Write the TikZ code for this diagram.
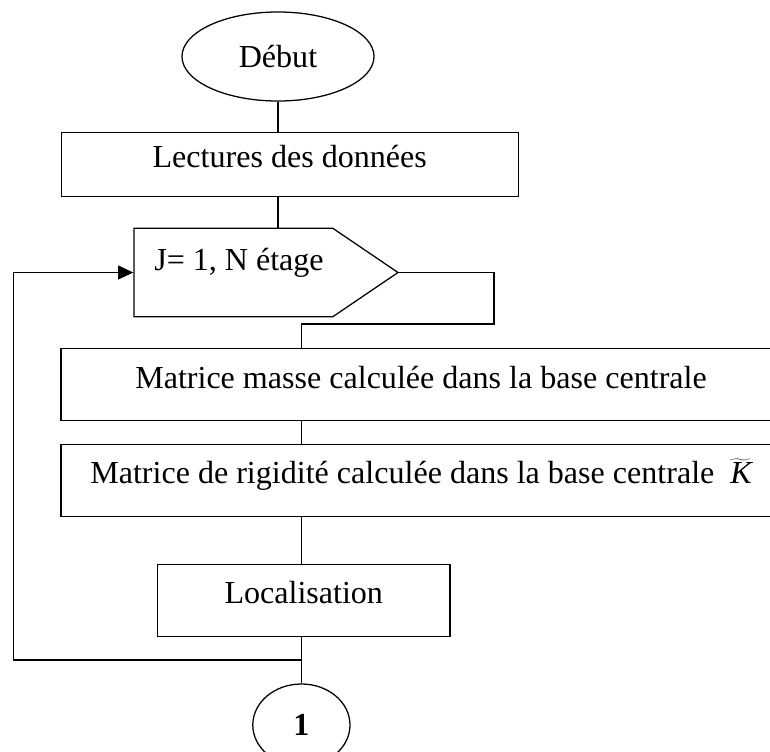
\documentclass[tikz,border=0pt]{standalone}
\usepackage{fontspec}
\setmainfont{Liberation Serif}
\usetikzlibrary{shapes.geometric,shapes.symbols,arrows.meta}

\tikzset{
  boite/.style={draw,line width=0.9pt,rectangle,inner sep=0pt,text height=0.69em,text depth=0.2em},
  termin/.style={draw,line width=0.9pt,ellipse,inner sep=0pt},
  lien/.style={line width=0.9pt}
}

\begin{document}
\begin{tikzpicture}[x=0.025cm,y=-0.025cm,font=\fontsize{22.8}{27}\selectfont]
  \clip (0,0) rectangle (770,751);
  % Debut et lecture
  \node[termin,minimum width=4.8cm,minimum height=2.225cm] (debut) at (278,56.5) {Début};
  \node[boite,minimum width=11.42cm,minimum height=1.61cm] (lect) at (289.7,164.5) {Lectures des données};

  % Boucle sur les etages
  \node[draw,line width=0.9pt,shape=signal,signal to=east,signal from=nowhere,signal pointer angle=68.3,
        minimum width=6.6cm,minimum height=2.21cm,inner sep=0pt,anchor=west] (boucle) at (133.3,272.5) {};
  \node[anchor=base west,inner sep=0pt] (bouclet) at (154,270) {J= 1, N étage};

  % Matrices
  \node[boite,minimum width=18cm,minimum height=1.8cm] (masse) at (421,384.7) {Matrice masse calculée dans la base centrale};
  \node[boite,minimum width=18cm,minimum height=1.81cm] (rigid) at (421,480.5) {Matrice de rigidité calculée dans la base centrale \ $\widetilde{\textit{K}}$};

  % Localisation et renvoi
  \node[boite,minimum width=7.31cm,minimum height=1.805cm] (local) at (303.75,600.4) {Localisation};
  \node[termin,minimum width=2.43cm,minimum height=2.05cm] (fin) at (301.4,725) {\bfseries 1};

  \coordinate (axe) at (301.7,0);
  \coordinate (coude) at (494,324);
  \coordinate (jonc) at (301.7,660);
  \coordinate (gauche) at (13.3,660);

  \draw[lien] (debut.south) -- (debut.south |- lect.north);
  \draw[lien] (debut.south |- lect.south) -- (debut.south |- boucle.north);
  \draw[lien] (boucle.east) -| (coude) -| (axe |- masse.north);
  \draw[lien] (axe |- masse.south) -- (axe |- rigid.north);
  \draw[lien] (axe |- rigid.south) -- (axe |- local.north);
  \draw[lien] (axe |- local.south) -- (axe |- fin.north);
  \draw[lien,-{Triangle[length=0.38cm,width=0.35cm]}] (jonc) -- (gauche) |- (boucle.west);
\end{tikzpicture}
\end{document}
